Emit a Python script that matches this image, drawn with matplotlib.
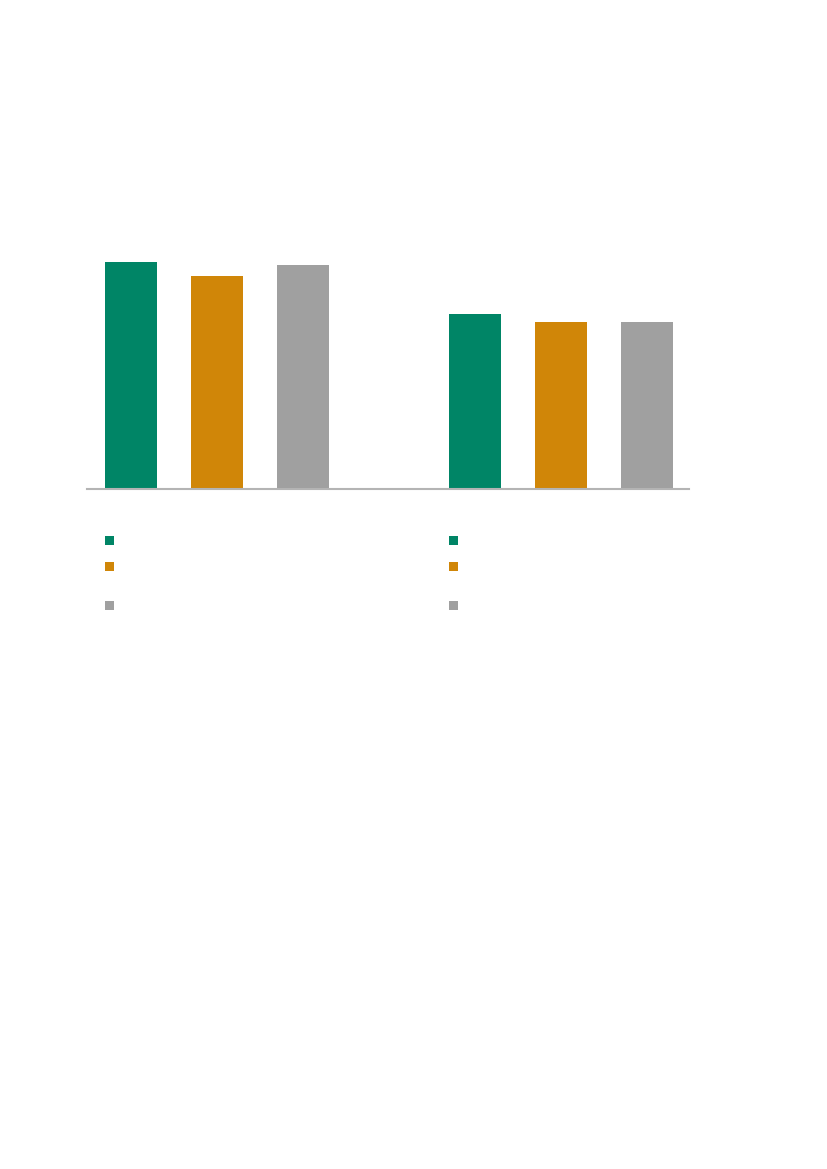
import matplotlib
matplotlib.use("Agg")
import matplotlib.pyplot as plt
from matplotlib.patches import Rectangle

# values (arbitrary units, no axis labels shown)
groups = ["", ""]
series_names = ["", "", ""]
series_a = [226.5, 174.5]   # green
series_b = [212.3, 166.3]   # orange
series_c = [223.8, 166.6]   # grey
colors = ["#008566", "#d08608", "#a0a0a0"]

W, H = 827, 1169
fig = plt.figure(figsize=(W / 100, H / 100), dpi=100)

# axes placed in pixel terms: x 87..689, baseline at y=488.5, 250 units tall
left, right, base = 87, 689, 488.5
ax = fig.add_axes([left / W, 1 - base / H, (right - left) / W, 250 / H])

pos = [[0, 4], [1, 5], [2, 6]]
for p, vals, c in zip(pos, [series_a, series_b, series_c], colors):
    ax.bar(p, vals, width=0.605, color=c, linewidth=0)

ax.set_xlim(-0.512, 6.488)
ax.set_ylim(0, 250)
for s in ["top", "right", "left"]:
    ax.spines[s].set_visible(False)
ax.spines["bottom"].set_color("#b4b4b4")
ax.spines["bottom"].set_linewidth(1.5)
ax.set_xticks([])
ax.set_yticks([])

# legend squares (labels are empty in the reference)
rows_y = [540, 566.5, 605.5]
for col_x in [105, 449]:
    for y, c in zip(rows_y, colors):
        fig.patches.append(Rectangle(((col_x) / W, 1 - (y + 4.5) / H), 9 / W, 9 / H,
                                     transform=fig.transFigure, color=c, linewidth=0))

fig.savefig("out.png", dpi=100)
